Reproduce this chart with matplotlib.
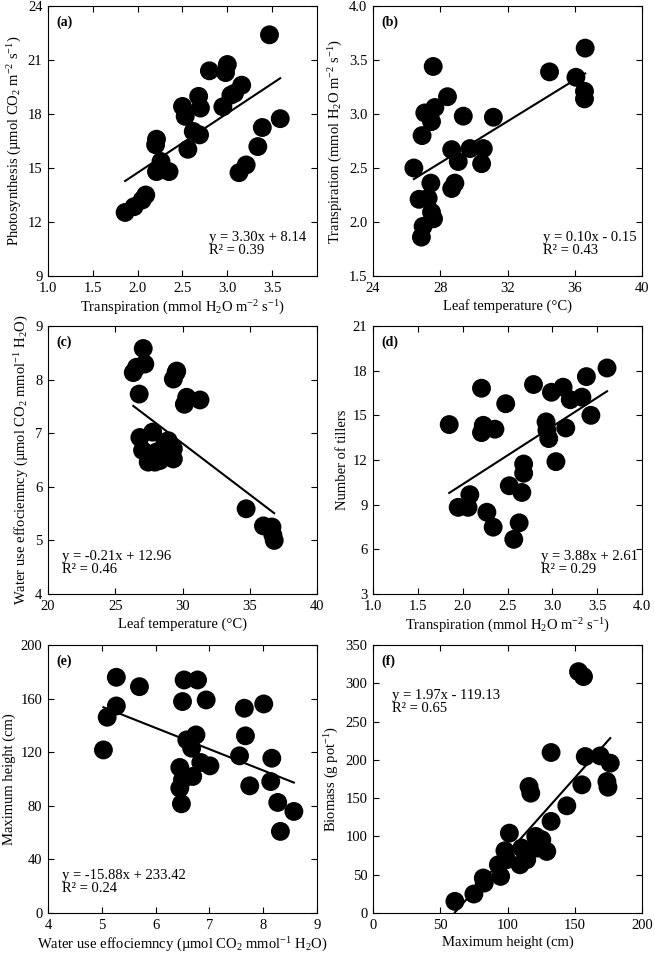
import matplotlib
matplotlib.use('Agg')
import matplotlib.pyplot as plt
import numpy as np

plt.rcParams['font.family'] = ['Liberation Serif', 'DejaVu Serif']
plt.rcParams['mathtext.fontset'] = 'custom'
plt.rcParams['mathtext.rm'] = 'Liberation Serif'
plt.rcParams['mathtext.it'] = 'Liberation Serif:italic'
plt.rcParams['font.size'] = 10

# (a) transpiration vs photosynthesis
a_x = [3.47, 2.80, 3.00, 2.98, 3.16, 3.04, 3.08, 2.95, 2.68, 2.70, 2.50, 2.53, 2.62, 2.69, 2.56,
       2.21, 2.20, 2.26, 2.35, 2.21, 2.09, 2.05, 1.96, 1.86, 3.59, 3.39, 3.34, 3.21, 3.13]
a_y = [22.4, 20.4, 20.75, 20.3, 19.6, 19.05, 19.15, 18.4, 18.98, 18.33, 18.42, 17.87, 17.03, 16.84, 16.04,
       16.6, 16.29, 15.36, 14.8, 14.8, 13.5, 13.22, 12.85, 12.53, 17.74, 17.25, 16.19, 15.17, 14.74]

# (b) leaf temperature vs transpiration
b_x = [36.62, 36.07, 34.50, 36.58, 36.58, 27.58, 28.43, 27.08, 27.68, 27.48, 26.92, 29.37, 31.16, 26.43,
       28.68, 29.07, 29.77, 30.56, 30.46, 28.87, 28.68, 27.44, 26.74, 27.28, 27.48, 26.98, 26.88, 27.60]
b_y = [3.61, 3.34, 3.39, 3.21, 3.14, 3.44, 3.16, 3.01, 3.06, 2.93, 2.80, 2.98, 2.97, 2.50,
       2.67, 2.56, 2.68, 2.68, 2.54, 2.36, 2.31, 2.36, 2.21, 2.22, 2.09, 1.96, 1.86, 2.03]

# (c) leaf temperature vs water use efficiency
c_x = [27.08, 27.20, 26.58, 26.34, 26.78, 29.52, 29.32, 29.57, 30.14, 30.31, 31.30, 26.83, 27.78, 27.03,
       27.45, 27.95, 28.70, 28.07, 28.82, 28.32, 29.32, 28.94, 29.32, 34.73, 36.02, 36.65, 36.72, 36.82]
c_y = [8.58, 8.29, 8.23, 8.13, 7.73, 8.13, 8.01, 8.16, 7.54, 7.67, 7.62, 6.92, 7.02, 6.68,
       6.46, 6.46, 6.83, 6.65, 6.58, 6.49, 6.71, 6.86, 6.52, 5.59, 5.27, 5.25, 5.10, 5.00]

# (d) transpiration vs tillers
d_x = [3.61, 3.38, 2.79, 2.21, 2.99, 3.12, 3.20, 3.33, 2.48, 1.85, 2.23, 2.21, 2.36, 2.93, 2.94,
       2.96, 3.15, 3.43, 3.04, 2.68, 2.68, 2.66, 2.52, 2.08, 1.95, 2.06, 2.27, 2.34, 2.63, 2.57]
d_y = [18.18, 17.6, 17.07, 16.82, 16.55, 16.89, 16.05, 16.22, 15.78, 14.38, 14.33, 13.84, 14.07, 14.56, 14.0,
       13.44, 14.15, 15.0, 11.89, 11.73, 11.11, 9.82, 10.27, 9.67, 8.82, 8.82, 8.49, 7.49, 7.78, 6.67]

# (e) water use efficiency vs maximum height
e_x = [5.03, 5.10, 5.27, 5.27, 5.70, 6.53, 6.78, 6.50, 6.94, 6.58, 6.75, 6.67, 6.84, 7.01, 6.45,
       6.50, 6.45, 6.69, 6.48, 7.65, 8.01, 7.67, 7.56, 8.16, 8.14, 7.75, 8.27, 8.57, 8.32]
e_y = [121.7, 146.1, 154.5, 175.9, 168.9, 173.9, 173.9, 157.8, 159.0, 129.2, 132.9, 123.0, 112.3, 109.8, 108.6,
       99.4, 93.2, 101.9, 81.5, 152.8, 156.0, 132.2, 117.3, 115.5, 98.1, 94.9, 82.5, 75.8, 60.9]

# (f) maximum height vs biomass
f_x = [152.8, 156.5, 132.4, 157.8, 168.9, 176.4, 155.3, 173.9, 174.7, 144.1, 116.0, 117.3, 132.4, 101.4, 121.0,
       125.5, 122.5, 129.2, 110.6, 98.1, 93.2, 99.4, 109.3, 114.3, 94.9, 82.0, 82.7, 75.0, 60.9]
f_y = [315.2, 308.7, 209.6, 204.3, 205.2, 195.7, 167.4, 171.7, 164.3, 140.0, 165.2, 156.5, 119.6, 104.3, 100.0,
       95.7, 84.8, 80.4, 84.8, 81.3, 63.0, 69.6, 63.0, 69.6, 47.8, 45.7, 39.1, 24.8, 15.2]

# fitted lines as drawn in the figure
slopes = [3.30, 0.096, -0.191, 3.88, -15.88, 1.97]
intercepts = [8.14, -0.14, 12.54, 2.61, 233.42, -119.13]
equations = ['y = 3.30x + 8.14\nR² = 0.39',
             'y = 0.10x - 0.15\nR² = 0.43',
             'y = -0.21x + 12.96\nR² = 0.46',
             'y = 3.88x + 2.61\nR² = 0.29',
             'y = -15.88x + 233.42\nR² = 0.24',
             'y = 1.97x - 119.13\nR² = 0.65']
letters = ['(a)', '(b)', '(c)', '(d)', '(e)', '(f)']

tr_label = r'Transpiration (mmol H$_2$O m$^{-2}$ s$^{-1}$)'
wue_label = r'Water use effociemncy (µmol CO$_2$ mmol$^{-1}$ H$_2$O)'
xlabels = [tr_label, 'Leaf temperature (°C)', 'Leaf temperature (°C)', tr_label,
           wue_label, 'Maximum height (cm)']
ylabels = [r'Photosynthesis (µmol CO$_2$ m$^{-2}$ s$^{-1}$)', tr_label, wue_label,
           'Number of tillers', 'Maximum height (cm)', r'Biomass (g pot$^{-1}$)']

xlims = [(1.0, 4.0), (24, 40), (20, 40), (1.0, 4.0), (4, 9), (0, 200)]
ylims = [(9, 24), (1.5, 4.0), (4, 9), (3, 21), (0, 200), (0, 350)]
xticks = [np.arange(1.0, 3.51, 0.5), np.arange(24, 41, 4), np.arange(20, 41, 5),
          np.arange(1.0, 4.01, 0.5), np.arange(4, 10, 1), np.arange(0, 201, 50)]
yticks = [np.arange(9, 25, 3), np.arange(1.5, 4.01, 0.5), np.arange(4, 10, 1),
          np.arange(3, 22, 3), np.arange(0, 201, 40), np.arange(0, 351, 50)]
xfmt = ['%.1f', '%d', '%d', '%.1f', '%d', '%d']
yfmt = ['%d', '%.1f', '%d', '%d', '%d', '%d']
eq_pos = [(0.60, 0.165), (0.632, 0.165), (0.052, 0.165), (0.625, 0.165), (0.052, 0.165), (0.07, 0.835)]

xs = [a_x, b_x, c_x, d_x, e_x, f_x]
ys = [a_y, b_y, c_y, d_y, e_y, f_y]

fig = plt.figure(figsize=(6.55, 9.59), dpi=100)
W, H = 655.0, 959.0
lefts = [48, 373]
tops = [6, 326, 645]
heights = [270, 268, 268]

for i in range(6):
    row, col = i // 2, i % 2
    ax = fig.add_axes([lefts[col] / W, 1 - (tops[row] + heights[row]) / H, 269 / W, heights[row] / H])
    x = np.array(xs[i])
    y = np.array(ys[i])
    ax.scatter(x, y, s=185, color='black', edgecolors='none', zorder=3)
    lx = np.linspace(x.min(), x.max(), 50)
    ax.plot(lx, slopes[i] * lx + intercepts[i], color='black', lw=1.5, zorder=2)
    ax.set_xlim(*xlims[i])
    ax.set_ylim(*ylims[i])
    ax.set_xticks(xticks[i])
    ax.set_yticks(yticks[i])
    ax.set_xticklabels([xfmt[i] % v for v in xticks[i]])
    ax.set_yticklabels([yfmt[i] % v for v in yticks[i]])
    ax.tick_params(direction='in', length=4, width=0.8, top=True, right=True, labelsize=10.5, pad=4)
    for sp in ax.spines.values():
        sp.set_linewidth(0.8)
    ax.set_xlabel(xlabels[i], fontsize=10.5, labelpad=3)
    ax.set_ylabel(ylabels[i], fontsize=10.5, labelpad=3)
    ax.text(0.03, 0.94, letters[i], transform=ax.transAxes, fontweight='bold', fontsize=10, va='center')
    ax.text(eq_pos[i][0], eq_pos[i][1], equations[i], transform=ax.transAxes, fontsize=10.5,
            va='top', ha='left', linespacing=1.0)

fig.savefig('out.png', dpi=100)
